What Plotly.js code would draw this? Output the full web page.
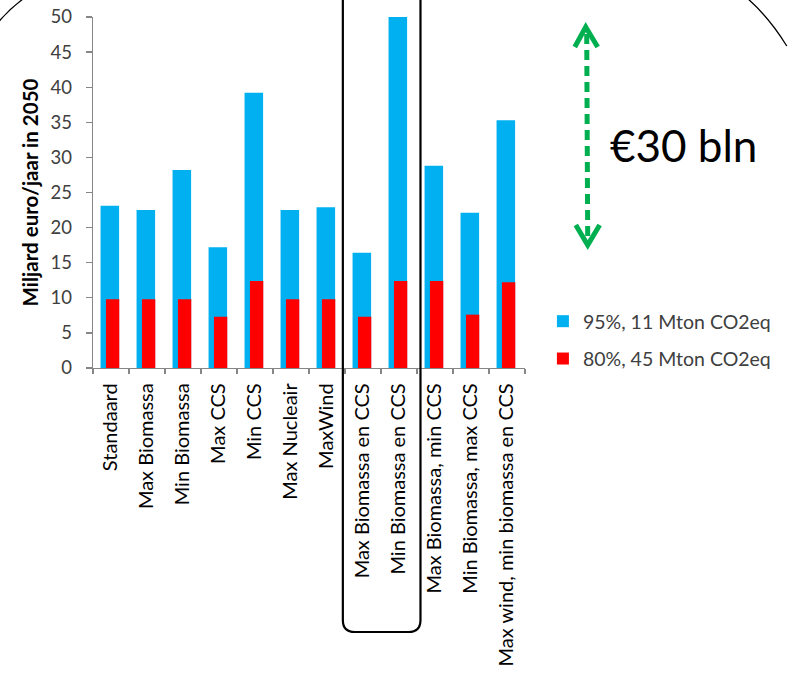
<!DOCTYPE html>
<html>
<head>
<meta charset="utf-8">
<script src="https://cdn.plot.ly/plotly-3.0.1.min.js"></script>
<style>
  html, body { margin: 0; padding: 0; background: #ffffff; }
  #chart { width: 788px; height: 675px; }
</style>
</head>
<body>
<div id="chart"></div>
<script>
// Scenario names along the horizontal axis
const scenarios = [
  "Standaard",
  "Max Biomassa",
  "Min Biomassa",
  "Max CCS",
  "Min CCS",
  "Max Nucleair",
  "MaxWind",
  "Max Biomassa en CCS",
  "Min Biomassa en CCS",
  "Max Biomassa, min CCS",
  "Min Biomassa, max CCS",
  "Max wind, min biomassa en CCS"
];

// Yearly cost in 2050 (billion euro) for the 95% reduction target (11 Mton CO2eq)
const cost95 = [23.1, 22.5, 28.2, 17.2, 39.2, 22.5, 22.9, 16.4, 50.0, 28.8, 22.1, 35.3];

// Yearly cost in 2050 (billion euro) for the 80% reduction target (45 Mton CO2eq)
const cost80 = [9.8, 9.8, 9.8, 7.3, 12.4, 9.8, 9.8, 7.3, 12.4, 12.4, 7.6, 12.2];

const series95Name = "95%, 11 Mton CO2eq";
const series80Name = "80%, 45 Mton CO2eq";
const yTicks = [0, 5, 10, 15, 20, 25, 30, 35, 40, 45, 50];

// Page and plot-area geometry (pixels)
const W = 788, H = 675;
const M = { l: 93, r: 261, t: 17, b: 307 };
const plotW = W - M.l - M.r;
const plotH = H - M.t - M.b;

// Convert page pixels into paper coordinates for the decorations
const px = (x) => (x - M.l) / plotW;
const py = (y) => 1 - (y - M.t) / plotH;

const FONT = "Lato, 'Open Sans', sans-serif";

const traces = [
  {
    type: "bar",
    name: series95Name,
    x: scenarios,
    y: cost95,
    width: 0.515,
    offset: -0.29,
    marker: { color: "#00b0f0" },
    legendgroup: "a",
    hoverinfo: "x+y"
  },
  {
    type: "bar",
    name: series80Name,
    x: scenarios,
    y: cost80,
    width: 0.37,
    offset: -0.14,
    marker: { color: "#ff0000" },
    legendgroup: "b",
    hoverinfo: "x+y"
  }
];

const green = "#00b050";

// Dashed two-headed arrow, the rounded frame around the two CCS scenarios,
// and the edges of the large outline circle behind the chart
const shapes = [
  {
    type: "line", xref: "paper", yref: "paper",
    x0: px(589), y0: py(34), x1: px(590), y1: py(240),
    line: { color: green, width: 5, dash: "10px,6px" }
  },
  {
    type: "path", xref: "paper", yref: "paper",
    path: `M${px(577)},${py(47)} L${px(588)},${py(27)} L${px(600)},${py(47)}`,
    line: { color: green, width: 5 }
  },
  {
    type: "path", xref: "paper", yref: "paper",
    path: `M${px(578)},${py(225)} L${px(590)},${py(245)} L${px(602)},${py(225)}`,
    line: { color: green, width: 5 }
  },
  {
    type: "path", xref: "paper", yref: "paper",
    path: `M${px(344)},${py(-30)} L${px(344)},${py(620)} Q${px(344)},${py(632)} ${px(356)},${py(632)} ` +
          `L${px(410)},${py(632)} Q${px(422)},${py(632)} ${px(422)},${py(620)} L${px(422)},${py(-30)}`,
    line: { color: "#000000", width: 2.2 }
  },
  {
    type: "path", xref: "paper", yref: "paper",
    path: `M${px(-2)},${py(22)} Q${px(9)},${py(9)} ${px(24)},${py(-2)}`,
    line: { color: "#000000", width: 1.3 }
  },
  {
    type: "path", xref: "paper", yref: "paper",
    path: `M${px(750)},${py(-2)} Q${px(772)},${py(17)} ${px(790)},${py(46)}`,
    line: { color: "#000000", width: 1.3 }
  }
];

const annotations = [
  {
    xref: "paper", yref: "paper",
    x: px(610), y: py(145), xanchor: "left", yanchor: "middle",
    text: "€30 bln", showarrow: false,
    font: { family: FONT, size: 44, color: "#000000" }
  }
];

const layout = {
  width: W, height: H,
  margin: M,
  paper_bgcolor: "#ffffff",
  plot_bgcolor: "#ffffff",
  barmode: "overlay",
  font: { family: FONT, color: "#404040" },
  showlegend: true,
  legend: {
    x: px(545), y: py(302), xanchor: "left", yanchor: "top",
    font: { family: FONT, size: 19.5, color: "#404040" },
    bgcolor: "rgba(0,0,0,0)",
    tracegroupgap: 9,
    itemwidth: 30
  },
  xaxis: {
    type: "category",
    tickson: "boundaries",
    ticks: "outside", ticklen: 5, tickcolor: "#868686", tickwidth: 1.3,
    showline: true, linecolor: "#868686", linewidth: 1.3,
    showgrid: false, zeroline: false,
    tickangle: -90,
    tickfont: { family: FONT, size: 20, color: "#000000" },
    ticklabelstandoff: 6,
    fixedrange: true
  },
  yaxis: {
    range: [0, 50],
    tickvals: yTicks,
    ticks: "outside", ticklen: 6, tickcolor: "#868686", tickwidth: 1.3,
    showline: true, linecolor: "#868686", linewidth: 1.3,
    showgrid: false, zeroline: false,
    tickfont: { family: FONT, size: 18.5, color: "#404040" },
    ticklabelstandoff: 10,
    title: {
      text: "<b>Miljard euro/jaar in 2050</b>",
      font: { family: FONT, size: 20.5, color: "#000000" },
      standoff: 6
    },
    fixedrange: true
  },
  shapes: shapes,
  annotations: annotations
};

Plotly.newPlot("chart", traces, layout, { displayModeBar: false, staticPlot: true });
</script>
</body>
</html>
